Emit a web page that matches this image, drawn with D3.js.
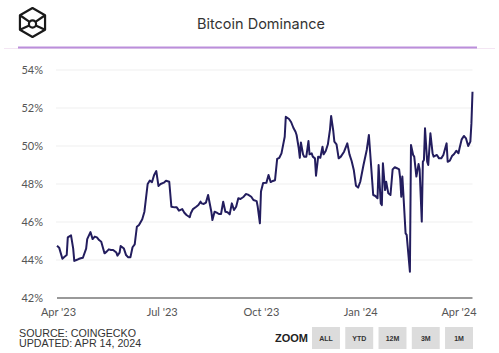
<!DOCTYPE html>
<html>
<head>
<meta charset="utf-8">
<script src="https://cdn.jsdelivr.net/npm/d3@7"></script>
<style>
	body { margin: 0; background: #fff; }
	#chart { width: 499px; height: 353px; }
</style>
</head>
<body>
<div id="chart"></div>
<script>

var title = "Bitcoin Dominance";
var sourceLines = ["SOURCE: COINGECKO", "UPDATED: APR 14, 2024"];
var zoomButtons = ["ALL", "YTD", "12M", "3M", "1M"];
var yTicks = [42, 44, 46, 48, 50, 52, 54];
var xTicks = ["2023-04-01", "2023-07-01", "2023-10-01", "2024-01-01", "2024-04-01"];

var dates = [
	"2023-03-26","2023-03-28","2023-03-31","2023-04-02","2023-04-04","2023-04-05","2023-04-08","2023-04-10",
	"2023-04-11","2023-04-13","2023-04-15","2023-04-17","2023-04-19","2023-04-22","2023-04-23","2023-04-26",
	"2023-04-28","2023-04-30","2023-05-02","2023-05-04","2023-05-06","2023-05-09","2023-05-11","2023-05-13",
	"2023-05-15","2023-05-17","2023-05-20","2023-05-21","2023-05-23","2023-05-24","2023-05-27","2023-05-29",
	"2023-05-31","2023-06-02","2023-06-04","2023-06-06","2023-06-08","2023-06-10","2023-06-13","2023-06-15",
	"2023-06-18","2023-06-20","2023-06-22","2023-06-24","2023-06-26","2023-06-28","2023-06-30","2023-07-03",
	"2023-07-05","2023-07-08","2023-07-10","2023-07-13","2023-07-15","2023-07-17","2023-07-20","2023-07-22",
	"2023-07-24","2023-07-27","2023-07-28","2023-07-30","2023-08-02","2023-08-04","2023-08-06","2023-08-07",
	"2023-08-09","2023-08-11","2023-08-13","2023-08-16","2023-08-17","2023-08-19","2023-08-21","2023-08-23",
	"2023-08-25","2023-08-27","2023-08-29","2023-08-31","2023-09-02","2023-09-04","2023-09-06","2023-09-08",
	"2023-09-10","2023-09-12","2023-09-15","2023-09-17","2023-09-19","2023-09-22","2023-09-24","2023-09-27",
	"2023-09-28","2023-09-30","2023-10-01","2023-10-03","2023-10-06","2023-10-08","2023-10-10","2023-10-12",
	"2023-10-14","2023-10-16","2023-10-18","2023-10-20","2023-10-23","2023-10-24","2023-10-27","2023-10-29",
	"2023-10-31","2023-11-02","2023-11-03","2023-11-05","2023-11-06","2023-11-07","2023-11-09","2023-11-10",
	"2023-11-12","2023-11-14","2023-11-15","2023-11-17","2023-11-18","2023-11-20","2023-11-21","2023-11-23",
	"2023-11-25","2023-11-27","2023-11-28","2023-11-30","2023-12-02","2023-12-04","2023-12-05","2023-12-07",
	"2023-12-08","2023-12-10","2023-12-12","2023-12-14","2023-12-17","2023-12-20","2023-12-22","2023-12-24",
	"2023-12-26","2023-12-28","2023-12-30","2024-01-01","2024-01-04","2024-01-07","2024-01-09","2024-01-13",
	"2024-01-15","2024-01-17","2024-01-18","2024-01-20","2024-01-21","2024-01-22","2024-01-24","2024-01-25",
	"2024-01-27","2024-01-29","2024-01-31","2024-02-02","2024-02-04","2024-02-06","2024-02-07","2024-02-08",
	"2024-02-09","2024-02-10","2024-02-12","2024-02-13","2024-02-16","2024-02-17","2024-02-19","2024-02-20",
	"2024-02-22","2024-02-24","2024-02-25","2024-02-27","2024-02-28","2024-02-29","2024-03-01","2024-03-03",
	"2024-03-04","2024-03-06","2024-03-08","2024-03-09","2024-03-12","2024-03-14","2024-03-16","2024-03-18",
	"2024-03-21","2024-03-22","2024-03-24","2024-03-26","2024-03-28","2024-03-30","2024-04-01","2024-04-02",
	"2024-04-04","2024-04-06","2024-04-08","2024-04-10","2024-04-12","2024-04-13","2024-04-14"
];

var dominance = [
	44.75,44.65,44.07,44.17,44.26,45.19,45.30,44.60,
	43.95,44.00,44.05,44.09,44.12,44.60,45.10,45.47,
	45.10,45.23,45.19,45.05,44.96,44.35,44.44,44.56,
	44.53,44.53,44.39,44.23,44.39,44.74,44.60,44.26,
	44.14,44.14,44.67,44.82,45.75,45.84,46.14,46.54,
	48.00,48.18,48.10,48.47,48.68,47.90,48.00,48.07,
	48.17,48.12,46.80,46.77,46.77,46.60,46.68,46.49,
	46.37,46.25,46.46,46.68,46.80,46.89,47.07,46.98,
	46.95,47.02,47.42,46.54,46.10,46.54,46.49,46.42,
	46.42,47.07,46.54,46.51,46.40,46.98,46.63,46.80,
	47.25,47.21,47.33,47.47,47.44,47.33,47.16,47.10,
	46.80,45.93,47.60,48.05,48.06,48.47,48.10,48.16,
	48.20,49.32,49.38,49.61,50.49,51.54,51.42,51.25,
	50.96,50.75,50.58,49.88,49.38,50.19,49.56,49.44,
	49.44,50.26,49.56,49.61,49.44,49.35,48.44,49.44,
	49.38,49.96,49.56,49.74,50.09,50.89,51.58,50.79,
	50.23,50.09,49.35,49.44,49.70,50.14,49.56,49.21,
	48.74,47.91,47.81,48.12,49.00,49.79,50.58,47.42,
	47.37,47.25,49.00,46.98,46.89,49.09,47.68,48.12,
	47.51,47.42,48.77,48.88,48.83,48.77,48.30,47.33,
	48.39,47.42,45.40,45.32,43.38,50.05,49.53,49.44,
	48.39,49.05,48.77,46.02,49.17,49.26,50.93,49.17,
	49.00,50.67,49.62,49.44,49.53,49.35,49.35,49.53,
	50.14,49.17,49.23,49.47,49.58,49.75,49.62,49.88,
	50.35,50.53,50.40,50.00,50.23,51.19,52.86
];

function init(){
	var w = 499;
	var h = 353;
	var parse = d3.timeParse("%Y-%m-%d");

	var data = dates.map(function(d, i){
		return {date: parse(d), value: dominance[i]};
	});

	var xScale = d3.scaleTime()
					.domain([parse("2023-03-26"), parse("2024-04-14")])
					.range([57, 472.5]);

	var yScale = d3.scaleLinear()
					.domain([42, 54])
					.range([298, 70]);

	var svg = d3.select("#chart")
				.append("svg")
				.attr("width", w)
				.attr("height", h)
				.style("font-family", "'Liberation Sans', Arial, sans-serif");

	//logo, a hexagon "cube"
	var logo = svg.append("g")
				.attr("transform", "translate(32.5,22.5)")
				.attr("fill", "none")
				.attr("stroke", "#1a1a1a")
				.attr("stroke-width", 2.2)
				.attr("stroke-linejoin", "round");
	var r = 14.5;
	var hex = d3.range(6).map(function(i){
		var a = Math.PI / 3 * i - Math.PI / 2;
		return [r * Math.cos(a), r * Math.sin(a)];
	});
	logo.append("path")
		.attr("d", d3.line()(hex) + "Z");
	logo.append("circle")
		.attr("cx", 0)
		.attr("cy", 1.5)
		.attr("r", 3.6);
	[hex[1], hex[2], hex[4], hex[5]].forEach(function(p){
		var len = Math.sqrt(p[0] * p[0] + (p[1] - 1.5) * (p[1] - 1.5));
		var ux = p[0] / len, uy = (p[1] - 1.5) / len;
		logo.append("line")
			.attr("x1", ux * 3.6)
			.attr("y1", 1.5 + uy * 3.6)
			.attr("x2", p[0])
			.attr("y2", p[1]);
	});

	//title
	svg.append("text")
		.attr("x", 261)
		.attr("y", 29)
		.attr("text-anchor", "middle")
		.style("font-family", "Inter, 'Noto Sans', sans-serif")
		.style("font-size", "14.5px")
		.attr("fill", "#333")
		.text(title);

	//header rules
	svg.append("line")
		.attr("x1", 4).attr("x2", 495)
		.attr("y1", 48.5).attr("y2", 48.5)
		.attr("stroke", "#f3e6f3")
		.attr("stroke-width", 1);
	svg.append("line")
		.attr("x1", 18).attr("x2", 477)
		.attr("y1", 47.5).attr("y2", 47.5)
		.attr("stroke", "#bb8fdb")
		.attr("stroke-width", 2);

	//gridlines
	svg.selectAll(".grid")
		.data(yTicks.slice(1))
		.enter()
		.append("line")
		.attr("class", "grid")
		.attr("x1", 56)
		.attr("x2", 472.5)
		.attr("y1", function(d){ return yScale(d); })
		.attr("y2", function(d){ return yScale(d); })
		.attr("stroke", "#efefef")
		.attr("stroke-width", 1);

	//y axis labels
	var yAxis = d3.axisLeft(yScale)
					.tickValues(yTicks)
					.tickSize(0)
					.tickPadding(0)
					.tickFormat(function(d){ return d + "%"; });
	var yg = svg.append("g")
				.attr("transform", "translate(43,0)")
				.call(yAxis);
	yg.select(".domain").remove();
	yg.selectAll("text")
		.attr("fill", "#555")
		.style("font-family", "Lato, 'Liberation Sans', sans-serif")
		.style("font-size", "11px");

	//x axis
	var xAxis = d3.axisBottom(xScale)
					.tickValues(xTicks.map(parse))
					.tickSize(0)
					.tickPadding(10)
					.tickFormat(d3.timeFormat("%b '%y"));
	var xg = svg.append("g")
				.attr("transform", "translate(0,298)")
				.call(xAxis);
	xg.select(".domain").remove();
	xg.selectAll("text")
		.attr("fill", "#555")
		.style("font-family", "Lato, 'Liberation Sans', sans-serif")
		.style("font-size", "11px")
		//first label sits a bit left, like the original
		.attr("dx", function(d, i){ return i == 0 ? -5.5 : 0; });

	svg.append("line")
		.attr("x1", 57).attr("x2", 472.5)
		.attr("y1", 298).attr("y2", 298)
		.attr("stroke", "#777")
		.attr("stroke-width", 1.5);

	//the line
	var line = d3.line()
				.x(function(d){ return xScale(d.date); })
				.y(function(d){ return yScale(d.value); });

	svg.append("path")
		.datum(data)
		.attr("d", line)
		.attr("fill", "none")
		.attr("stroke", "#231d5e")
		.attr("stroke-width", 2)
		.attr("stroke-linejoin", "round");

	//footer
	svg.selectAll(".source")
		.data(sourceLines)
		.enter()
		.append("text")
		.attr("class", "source")
		.attr("x", 19)
		.attr("y", function(d, i){ return 336.5 + i * 10.5; })
		.attr("fill", "#333")
		.style("font-size", "10.7px")
		.text(function(d){ return d; });

	svg.append("text")
		.attr("x", 275)
		.attr("y", 342)
		.attr("fill", "#222")
		.style("font-size", "11px")
		.style("font-weight", "bold")
		.text("ZOOM");

	var bx = d3.scaleBand()
				.domain(zoomButtons)
				.range([312, 473])
				.paddingInner(0.16)
				.paddingOuter(0);

	var btn = svg.selectAll(".btn")
				.data(zoomButtons)
				.enter()
				.append("g")
				.attr("class", "btn")
				.attr("transform", function(d){ return "translate(" + bx(d) + ",327)"; });
	btn.append("rect")
		.attr("width", bx.bandwidth())
		.attr("height", 22)
		.attr("fill", "#dcdcdc");
	btn.append("text")
		.attr("x", bx.bandwidth() / 2)
		.attr("y", 14)
		.attr("text-anchor", "middle")
		.attr("fill", "#333")
		.style("font-size", "7px")
		.style("font-weight", "bold")
		.text(function(d){ return d; });
}

window.onload = init;
</script>
</body>
</html>
